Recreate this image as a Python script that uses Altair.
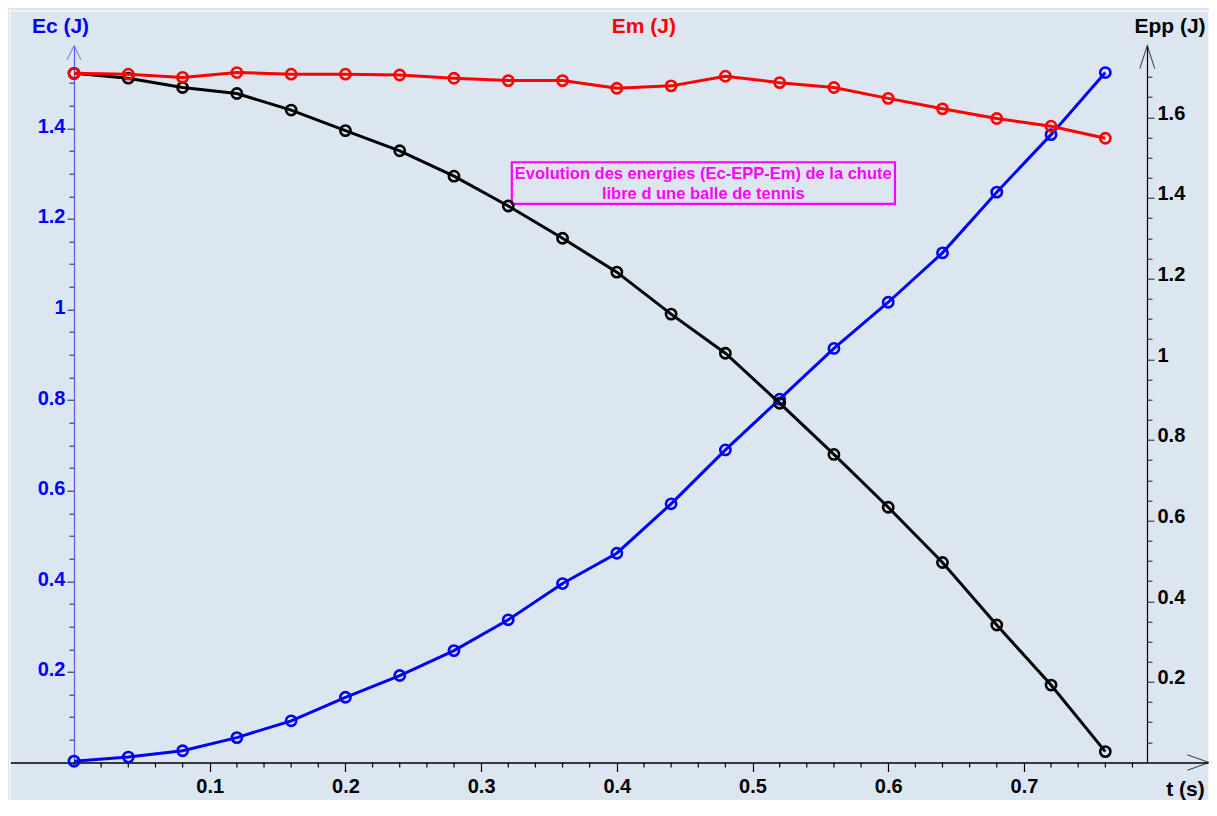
import altair as alt
import pandas as pd

# ---------------- data ----------------
t = [0.00, 0.04, 0.08, 0.12, 0.16, 0.20, 0.24, 0.28, 0.32, 0.36,
     0.40, 0.44, 0.48, 0.52, 0.56, 0.60, 0.64, 0.68, 0.72, 0.76]
ec = [0.003, 0.012, 0.026, 0.055, 0.092, 0.144, 0.192, 0.247, 0.315, 0.395,
      0.462, 0.571, 0.690, 0.802, 0.914, 1.016, 1.125, 1.259, 1.386, 1.523]
epp = [1.709, 1.697, 1.674, 1.659, 1.618, 1.567, 1.517, 1.454, 1.380, 1.300,
       1.216, 1.112, 1.015, 0.891, 0.764, 0.633, 0.496, 0.341, 0.192, 0.027]
em = [1.709, 1.707, 1.699, 1.711, 1.707, 1.707, 1.705, 1.697, 1.691, 1.691,
      1.672, 1.678, 1.702, 1.686, 1.674, 1.647, 1.621, 1.597, 1.578, 1.548]

x_major = [0.1, 0.2, 0.3, 0.4, 0.5, 0.6, 0.7]
x_minor = [0.0, 0.02, 0.04, 0.06, 0.08, 0.12, 0.14, 0.16, 0.18, 0.22, 0.24, 0.26, 0.28,
           0.32, 0.34, 0.36, 0.38, 0.42, 0.44, 0.46, 0.48, 0.52, 0.54, 0.56, 0.58,
           0.62, 0.64, 0.66, 0.68, 0.72, 0.74, 0.76, 0.78]
left_ticks = [round(0.05 * i, 2) for i in range(1, 31)]
right_ticks = [round(0.05 * i, 2) for i in range(1, 35)]

note_lines = ["Evolution des energies (Ec-EPP-Em) de la chute",
              "libre d une balle de tennis"]

# axis extents
T_MIN, T_MAX = -0.0472, 0.8364
EC_MAX = 1.5823
EP_MAX = 1.7776
T_RIGHT_AXIS = 0.7909

W, H = 1199, 716.8
FONT = "Liberation Sans"
BG = "#dce6f1"

df = pd.DataFrame({"t": t, "Ec": ec, "Epp": epp, "Em": em})

xscale = alt.Scale(domain=[T_MIN, T_MAX], nice=False, zero=False)
ec_scale = alt.Scale(domain=[0, EC_MAX], nice=False, zero=False)
ep_scale = alt.Scale(domain=[0, EP_MAX], nice=False, zero=False)

major_y = "abs(datum.value*5 - round(datum.value*5)) < 0.001"

x_axis = alt.Axis(
    orient="bottom", values=x_major, format=".1f", grid=False,
    domainColor="black", domainWidth=1.5,
    tickColor="black", tickWidth=1.2, tickSize=9,
    labelFont=FONT, labelFontSize=20, labelFontWeight="bold", labelColor="black",
    labelPadding=5,
    title="t (s)", titleFont=FONT, titleFontSize=21, titleFontWeight="bold",
    titleColor="black", titleX=1175, titleY=32.5, titleAngle=0,
    titleAlign="center", titleBaseline="alphabetic",
)

ec_axis = alt.Axis(
    orient="left", offset=-64, values=left_ticks, grid=False,
    domainColor="#5a5aff", domainWidth=1.2,
    tickColor="#222222", tickWidth=1,
    tickSize={"condition": {"test": major_y, "value": 7}, "value": 5},
    labelExpr=f"({major_y}) ? format(datum.value, '~g') : ''",
    labelFont=FONT, labelFontSize=20, labelFontWeight="bold", labelColor="#0000ff",
    labelPadding=2, labelOffset=-2, labelOverlap=False, labelFlush=False,
    title="Ec (J)", titleFont=FONT, titleFontSize=21, titleFontWeight="bold",
    titleColor="#0000ff", titleX=-14, titleY=-13.4, titleAngle=0,
    titleAlign="center", titleBaseline="alphabetic",
)

ep_axis = alt.Axis(
    orient="right", offset=-62, values=right_ticks, grid=False,
    domainColor="black", domainWidth=1.2,
    tickColor="#222222", tickWidth=1,
    tickSize={"condition": {"test": major_y, "value": 7}, "value": 5},
    labelExpr=f"({major_y}) ? format(datum.value, '~g') : ''",
    labelFont=FONT, labelFontSize=20, labelFontWeight="bold", labelColor="black",
    labelPadding=3, labelOffset=-4, labelOverlap=False, labelFlush=False,
    title="Epp (J)", titleFont=FONT, titleFontSize=21, titleFontWeight="bold",
    titleColor="black", titleX=22.5, titleY=-13.4, titleAngle=0,
    titleAlign="center", titleBaseline="alphabetic",
)

em_axis = alt.Axis(
    orient="left", offset=0, domain=False, ticks=False, labels=False, grid=False,
    title="Em (J)", titleFont=FONT, titleFontSize=21, titleFontWeight="bold",
    titleColor="#ff0000", titleX=633.3, titleY=-13.4, titleAngle=0,
    titleAlign="center", titleBaseline="alphabetic",
)

base = alt.Chart(df)

# carrier of the time axis (points drawn invisibly)
x_carrier = base.mark_point(opacity=0).encode(
    x=alt.X("t:Q", scale=xscale, axis=x_axis),
    y=alt.Y("Ec:Q", scale=ec_scale, axis=None),
)


def series(field, color, yscale, axis):
    return base.mark_line(
        color=color, strokeWidth=3,
        point=alt.OverlayMarkDef(filled=False, color=color, size=105, strokeWidth=2.6),
    ).encode(
        x=alt.X("t:Q", scale=xscale, axis=None),
        y=alt.Y(f"{field}:Q", scale=yscale, axis=axis),
    )


ec_layer = series("Ec", "#0000ff", ec_scale, ec_axis)
ep_layer = series("Epp", "#000000", ep_scale, ep_axis)
em_layer = series("Em", "#ff0000", ep_scale, em_axis)

# short (minor) ticks of the time axis
minor_ticks = alt.Chart(pd.DataFrame({"tm": x_minor})).mark_rule(
    color="black", strokeWidth=1.2
).encode(x=alt.X("tm:Q", scale=xscale, axis=None), y=alt.value(H), y2=alt.value(H + 5))

# frame (decorative white border of the plot panel)
frame = alt.Chart(pd.DataFrame({"a": [0]})).mark_rect(
    fill="transparent", stroke="#f7f9fc", strokeWidth=1.5
).encode(x=alt.value(0), x2=alt.value(W), y=alt.value(-35), y2=alt.value(800))

# annotation box (data coordinates on the Ec scale)
box_df = pd.DataFrame({"x1": [0.3226], "x2": [0.6050], "y1": [1.325], "y2": [1.233]})
box = alt.Chart(box_df).mark_rect(
    fill="transparent", stroke="#ff00ff", strokeWidth=2.2
).encode(
    x=alt.X("x1:Q", scale=xscale, axis=None), x2="x2:Q",
    y=alt.Y("y1:Q", scale=ec_scale, axis=None), y2="y2:Q",
)
txt_df = pd.DataFrame({"tx": [0.4637, 0.4637], "ty": [1.299, 1.255], "label": note_lines})
txt = alt.Chart(txt_df).mark_text(
    font=FONT, fontSize=16.5, fontWeight="bold", color="#ff00ff",
    align="center", baseline="middle",
).encode(
    x=alt.X("tx:Q", scale=xscale, axis=None),
    y=alt.Y("ty:Q", scale=ec_scale, axis=None),
    text="label:N",
)

# axis arrows
arr_left = alt.Chart(pd.DataFrame({"ax": [0.0], "ay": [EC_MAX]})).mark_point(
    shape="M-0.5,1L0,0L0.5,1", size=784, filled=False, color="#5a5aff", strokeWidth=1.1
).encode(x=alt.X("ax:Q", scale=xscale, axis=None), y=alt.Y("ay:Q", scale=ec_scale, axis=None))

arr_right = alt.Chart(pd.DataFrame({"ax": [T_RIGHT_AXIS], "ay": [EP_MAX]})).mark_point(
    shape="M-0.326,1L0,0L0.326,1", size=2116, filled=False, color="black", strokeWidth=1.1
).encode(x=alt.X("ax:Q", scale=xscale, axis=None), y=alt.Y("ay:Q", scale=ep_scale, axis=None))

arr_x = alt.Chart(pd.DataFrame({"ax": [T_MAX], "ay": [0.0]})).mark_point(
    shape="M-1,-0.361L0,0L-1,0.361", size=1866, filled=False, color="black", strokeWidth=1.1
).encode(x=alt.X("ax:Q", scale=xscale, axis=None), y=alt.Y("ay:Q", scale=ec_scale, axis=None))

chart = alt.layer(
    x_carrier, frame, box, txt, minor_ticks, ec_layer, ep_layer, em_layer,
    arr_left, arr_right, arr_x
).resolve_scale(y="independent").resolve_axis(x="independent").properties(
    width=W, height=H,
    padding={"left": 2, "top": 37.7, "right": 0, "bottom": 37.5},
    autosize=alt.AutoSizeParams(type="none"),
    background=BG,
).configure_view(stroke="transparent")

chart.save("out.html", embed_options={"renderer": "svg", "actions": False})
